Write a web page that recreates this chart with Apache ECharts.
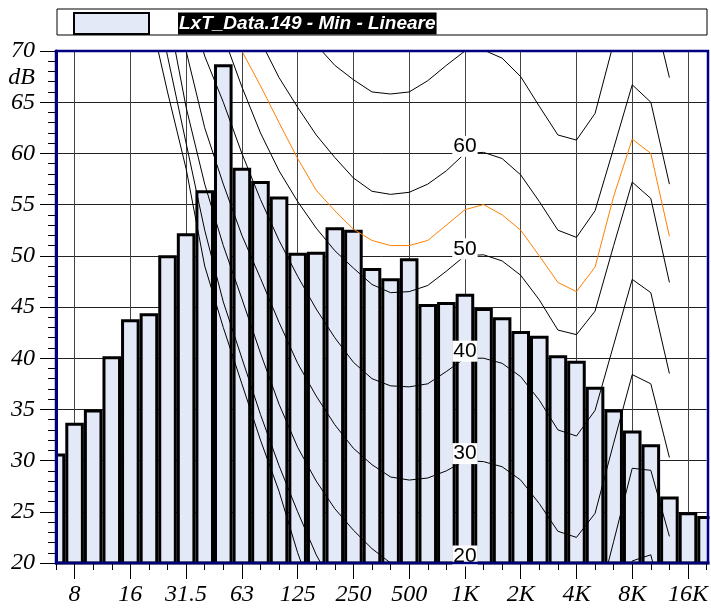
<!DOCTYPE html>
<html>
<head>
<meta charset="utf-8">
<script src="https://cdn.jsdelivr.net/npm/echarts@6/dist/echarts.min.js"></script>
<style>
  html, body { margin: 0; padding: 0; background: #fff; }
  #chart { width: 711px; height: 608px; }
</style>
</head>
<body>
<div id="chart"></div>
<script>
// third-octave bands, 6.3 Hz .. 20 kHz
const freqs = ['6.3', '8', '10', '12.5', '16', '20', '25', '31.5', '40', '50', '63', '80', '100', '125', '160', '200', '250', '315', '400', '500', '630', '800', '1K', '1.25K', '1.6K', '2K', '2.5K', '3.15K', '4K', '5K', '6.3K', '8K', '10K', '12.5K', '16K', '20K'];
const octaveLabels = ['8', '16', '31.5', '63', '125', '250', '500', '1K', '2K', '4K', '8K', '16K'];

const seriesName = 'LxT_Data.149 - Min - Lineare';
const levels = [30.7, 33.7, 35.0, 40.2, 43.8, 44.4, 50.05, 52.2, 56.4, 68.7, 58.6, 57.3, 55.8, 50.3, 50.4, 52.8, 52.55, 48.8, 47.8, 49.75, 45.3, 45.5, 46.3, 44.9, 44.0, 42.65, 42.2, 40.3, 39.75, 37.2, 35.0, 32.95, 31.6, 26.5, 24.95, 24.6];

// equal loudness curves
const N = null;
const curve0 = [N, N, N, N, N, 74, 66, 58.5, 49, 43, 37.5, 32, 27, 21, 16, 12, N, N, N, N, N, N, N, N, N, N, N, N, N, N, N, N, N, N, N, N];
const curve10 = [N, N, N, N, N, 78, 69.5, 61, 52.5, 45.5, 40, 34.5, 29.5, 25, 20.8, 17.5, 15, 13, 11.5, 10.5, 10, 9.8, 10, 9.9, 9.3, 7.8, 5.5, 3, 2.5, 5, 12.5, 20.2, 20.8, 13.5, N, N];
const curve20 = [N, N, N, N, N, 84, 74, 64.5, 57, 51, 45.8, 40.5, 35.5, 31.3, 28, 25.3, 23.2, 21.4, 20.0, 19.3, 19.3, 19.5, 20, 19.9, 19.3, 17.9, 15.7, 13, 12.5, 15, 22.1, 29.25, 29.05, 22.6, N, N];
const curve30 = [N, N, N, N, N, N, 82, 70, 62.5, 57, 52, 47.8, 43.5, 39.5, 36.3, 33.5, 31.2, 29.6, 28.4, 28.1, 28.3, 29.0, 30, 29.9, 29.4, 28.1, 25.8, 23.1, 22.5, 24.85, 31.7, 38.4, 37.5, 30.3, N, N];
const curve40 = [N, N, N, N, N, N, N, 76, 69.5, 65, 60, 55.5, 51.5, 48, 44.8, 42, 39.6, 38.0, 37.3, 37.2, 37.5, 38.7, 40, 40.0, 39.5, 38.2, 35.9, 33.0, 32.4, 34.9, 41.3, 47.7, 46.4, 38.5, N, N];
const curve50 = [N, N, N, N, N, N, N, N, 77, 71.5, 66.5, 62, 58.3, 55.3, 52.7, 50.5, 48.8, 47.2, 46.4, 46.5, 47.1, 48.5, 50, 50.1, 49.5, 48.1, 45.7, 42.75, 42.3, 44.6, 51.0, 57.2, 55.6, 47.4, N, N];
const curveLoud = [N, N, N, N, N, N, N, N, 78.5, 74, 70, 66.6, 63, 59.5, 56.4, 54.4, 52.6, 51.5, 51, 51, 51.5, 53, 54.5, 55, 54, 52.5, 50, 47.4, 46.5, 48.9, 55.8, 61.4, 60, 51.9, N, N];
const curve60 = [N, N, N, N, N, N, N, N, N, N, 75, 71, 67.4, 64.5, 61.8, 59.6, 57.6, 56.3, 56.0, 56.2, 57.0, 58.3, 60, 60.1, 59.5, 57.9, 55.3, 52.5, 51.8, 54.4, 60.5, 66.7, 65.0, 57.0, N, N];
const curve70 = [N, N, N, N, N, N, N, N, N, N, N, N, 77.5, 74, 70.6, 68.6, 67.2, 66.0, 65.8, 66.0, 67.1, 68.6, 70, 70.1, 69.3, 67.5, 64.6, 61.8, 61.3, 63.9, 70.8, 76.5, 75.0, 67.4, N, N];
const curveLabels = [20, 30, 40, 50, 60];

const serif = 'Liberation Serif';
const isOctave = (i) => octaveLabels.indexOf(freqs[i]) >= 0;

function curve(data, color) {
  return {
    type: 'line',
    data: data,
    showSymbol: false,
    silent: true,
    clip: true,
    lineStyle: { color: color || '#000', width: 1 },
    z: 3,
  };
}

const chartsDom = document.getElementById('chart');
const mychart = echarts.init(chartsDom, null, { renderer: 'canvas' });

const option = {
  animation: false,
  grid: { left: 56, right: 3, top: 51, bottom: 45 },
  legend: {
    data: [seriesName],
    left: 68,
    top: 7,
    itemWidth: 75,
    itemHeight: 21,
    icon: 'rect',
    selectedMode: false,
    formatter: (name) => '{g|}{t|' + name + '}',
    textStyle: {
      rich: {
        g: { width: 24 },
        t: {
          color: '#fff',
          backgroundColor: '#000',
          fontFamily: 'Liberation Sans',
          fontWeight: 'bold',
          fontStyle: 'italic',
          fontSize: 19,
          padding: [2, 1, 1, 1],
        },
      },
    },
  },
  xAxis: [
    {
      type: 'category',
      data: freqs,
      boundaryGap: false,
      position: 'bottom',
      axisLine: { show: true, lineStyle: { color: '#00007f', width: 2 } },
      axisTick: { show: true, interval: 0, length: 7, lineStyle: { color: '#000' } },
      axisLabel: {
        interval: (i) => isOctave(i),
        margin: 20,
        color: '#000',
        fontFamily: serif,
        fontStyle: 'italic',
        fontSize: 24,
      },
      splitLine: {
        show: true,
        interval: (i) => isOctave(i),
        lineStyle: { color: '#444', width: 1 },
      },
    },
    {
      type: 'category',
      data: freqs,
      boundaryGap: false,
      position: 'bottom',
      axisLine: { show: false },
      axisTick: { show: true, interval: (i) => isOctave(i), length: 16, lineStyle: { color: '#000' } },
      axisLabel: { show: false },
      splitLine: { show: false },
    },
  ],
  yAxis: [
    {
      // grid lines only, behind the bars
      type: 'value',
      min: 20,
      max: 70,
      interval: 5,
      axisLine: { show: false },
      axisTick: { show: false },
      axisLabel: { show: false },
      splitLine: { show: true, lineStyle: { color: '#222', width: 1 } },
    },
    {
      // ticks and labels, drawn over the half bar at the left edge
      type: 'value',
      min: 20,
      max: 70,
      interval: 5,
      position: 'left',
      z: 60,
      axisLine: { show: true, lineStyle: { color: '#00007f', width: 3 } },
      axisTick: { show: true, length: 16, lineStyle: { color: '#000' } },
      minorTick: { show: true, splitNumber: 5, length: 8, lineStyle: { color: '#000' } },
      axisLabel: {
        margin: 21,
        color: '#000',
        fontFamily: serif,
        fontStyle: 'italic',
        fontSize: 24,
      },
      splitLine: { show: false },
    },
  ],
  graphic: [
    {
      type: 'rect',
      shape: { x: 57, y: 9, width: 650, height: 26 },
      style: { fill: 'none', stroke: '#000', lineWidth: 1 },
      z: 0,
    },
    {
      // hide the half bars that stick out of the plot
      type: 'rect',
      shape: { x: 36, y: 280, width: 19, height: 287 },
      style: { fill: '#fff' },
      z: 50,
    },
    {
      type: 'rect',
      shape: { x: 709.5, y: 480, width: 10, height: 90 },
      style: { fill: '#fff' },
      z: 50,
    },
    {
      type: 'rect',
      shape: { x: 56, y: 51, width: 652, height: 512 },
      style: { fill: 'none', stroke: '#00007f', lineWidth: 2.5 },
      z: 100,
    },
    {
      type: 'text',
      x: 35,
      y: 78,
      style: {
        text: 'dB',
        fill: '#000',
        font: 'italic 24px "Liberation Serif"',
        align: 'right',
        verticalAlign: 'middle',
      },
    },
  ],
  series: [
    {
      name: seriesName,
      type: 'bar',
      data: levels,
      yAxisIndex: 0,
      barCategoryGap: 0,
      barWidth: '100%',
      itemStyle: { color: '#e3e9f6', borderColor: '#000', borderWidth: 3 },
      z: 2,
    },
    curve(curve0),
    curve(curve10),
    curve(curve20),
    curve(curve30),
    curve(curve40),
    curve(curve50),
    curve(curveLoud, '#ff8000'),
    curve(curve60),
    curve(curve70),
    {
      type: 'scatter',
      data: curveLabels.map((v) => ['1K', v]),
      symbolSize: 0,
      silent: true,
      z: 4,
      label: {
        show: true,
        position: 'inside',
        offset: [0, -7],
        formatter: (p) => String(p.value[1]),
        color: '#000',
        opacity: 1,
        textBorderWidth: 0,
        backgroundColor: '#fff',
        padding: [0, 1],
        fontFamily: 'Liberation Sans',
        fontSize: 21,
      },
    },
  ],
};

mychart.setOption(option);

window.addEventListener('resize', () => {
  mychart.resize();
});
</script>
</body>
</html>
